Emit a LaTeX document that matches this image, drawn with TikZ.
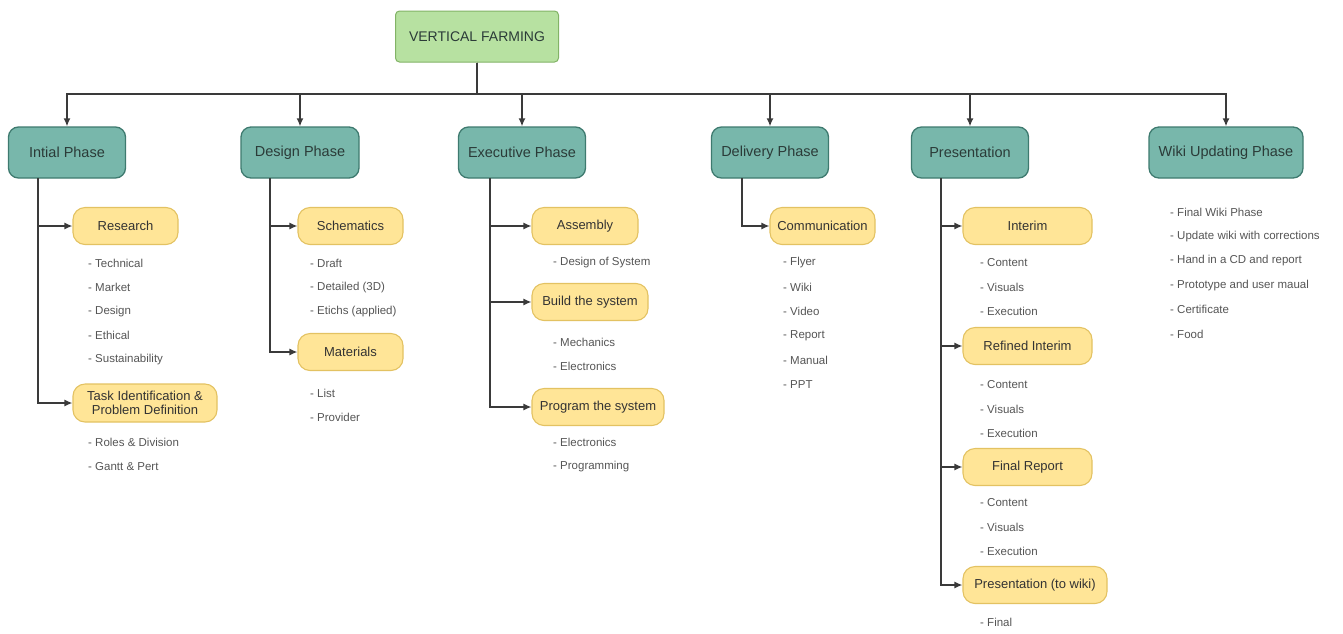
\documentclass[tikz,border=0pt]{standalone}
\usepackage{fontspec}
\setmainfont{Liberation Sans}
\usetikzlibrary{arrows.meta,calc}
\definecolor{rootfill}{HTML}{B7E1A1}
\definecolor{rootdraw}{HTML}{82B366}
\definecolor{phfill}{HTML}{78B7AB}
\definecolor{phdraw}{HTML}{3E7A6F}
\definecolor{yfill}{HTML}{FFE597}
\definecolor{ydraw}{HTML}{E3C262}
\definecolor{linec}{HTML}{3A3A3A}
\definecolor{bulc}{HTML}{555555}
\definecolor{txtc}{HTML}{2B3B38}
\tikzset{
  rootbox/.style={draw=rootdraw,fill=rootfill,line width=1pt,rounded corners=4pt,
    minimum width=163pt,minimum height=51pt,inner sep=0pt,
    font=\fontsize{14}{16}\selectfont,text=txtc},
  phasebox/.style={draw=phdraw,fill=phfill,line width=1.3pt,rounded corners=10pt,
    minimum height=51pt,inner sep=0pt,font=\fontsize{14.5}{16}\selectfont,text=txtc},
  subbox/.style={draw=ydraw,fill=yfill,line width=1.1pt,rounded corners=12pt,
    minimum height=37pt,inner sep=0pt,align=center,
    font=\fontsize{13}{14}\selectfont,text=black!80},
  bul/.style={anchor=west,inner sep=0pt,font=\fontsize{11.5}{13}\selectfont,text=bulc},
  conn/.style={draw=linec,line width=1.4pt},
  arr/.style={conn,-{Latex[length=8pt,width=7pt]}}
}
\begin{document}
\begin{tikzpicture}[x=1pt,y=-1pt]
\useasboundingbox (0,0) rectangle (1343,633);
% root
\node[rootbox] (root) at (477,36.5) {VERTICAL FARMING};
% phases
\node[phasebox,minimum width=117pt] (p1) at (67,152.5) {Intial Phase};
\node[phasebox,minimum width=118pt] (p2) at (300,152.5) {Design Phase};
\node[phasebox,minimum width=127pt] (p3) at (522,152.5) {Executive Phase};
\node[phasebox,minimum width=117pt] (p4) at (770,152.5) {Delivery Phase};
\node[phasebox,minimum width=117pt] (p5) at (970,152.5) {Presentation};
\node[phasebox,minimum width=154pt] (p6) at (1226,152.5) {Wiki Updating Phase};
% bus
\coordinate (bus) at (477,94);
\foreach \p in {p1,p2,p3,p4,p5,p6}{
  \draw[arr] (root.south) -- (bus) -| (\p.north);
}
% sub boxes
\node[subbox,minimum width=105pt] (s11) at (125.5,226) {Research};
\node[subbox,minimum width=144pt,minimum height=38pt] (s12) at (145,403) {Task Identification \&\\Problem Definition};
\node[subbox,minimum width=105pt] (s21) at (350.5,226) {Schematics};
\node[subbox,minimum width=105pt] (s22) at (350.5,352) {Materials};
\node[subbox,minimum width=106pt] (s31) at (585,226) {Assembly};
\node[subbox,minimum width=116pt] (s32) at (590,302) {Build the system};
\node[subbox,minimum width=132pt] (s33) at (598,407) {Program the system};
\node[subbox,minimum width=105pt] (s41) at (822.5,226) {Communication};
\node[subbox,minimum width=129pt] (s51) at (1027.5,226) {Interim};
\node[subbox,minimum width=129pt] (s52) at (1027.5,346) {Refined Interim};
\node[subbox,minimum width=129pt] (s53) at (1027.5,467) {Final Report};
\node[subbox,minimum width=144pt] (s54) at (1035,585) {Presentation (to wiki)};
% trunks
\coordinate (t1) at (38,178);
\coordinate (t2) at (270,178);
\coordinate (t3) at (490,178);
\coordinate (t4) at (742,178);
\coordinate (t5) at (941,178);
\foreach \s in {s11,s12}{\draw[arr] (t1) |- (\s.west);}
\foreach \s in {s21,s22}{\draw[arr] (t2) |- (\s.west);}
\foreach \s in {s31,s32,s33}{\draw[arr] (t3) |- (\s.west);}
\draw[arr] (t4) |- (s41.west);
\foreach \s in {s51,s52,s53,s54}{\draw[arr] (t5) |- (\s.west);}
% bullet lists
\foreach \t [count=\i] in {Technical,Market,Design,Ethical,Sustainability}
  \node[bul,name=b11\i] at (88,{263+24.25*(\i-1)}) {- \t};
\foreach \t [count=\i] in {Roles \& Division,Gantt \& Pert}
  \node[bul,name=b12\i] at (88,{442+24.25*(\i-1)}) {- \t};
\foreach \t [count=\i] in {Draft,Detailed (3D),Etichs (applied)}
  \node[bul,name=b21\i] at (310,{263+24.25*(\i-1)}) {- \t};
\foreach \t [count=\i] in {List,Provider}
  \node[bul,name=b22\i] at (310,{393+24.25*(\i-1)}) {- \t};
\node[bul] (b311) at (553,263) {- Design of System};
\foreach \t [count=\i] in {Mechanics,Electronics}
  \node[bul,name=b32\i] at (553,{342.5+24.25*(\i-1)}) {- \t};
\foreach \t [count=\i] in {Electronics,Programming}
  \node[bul,name=b33\i] at (553,{442+24.25*(\i-1)}) {- \t};
\foreach \t [count=\i] in {Flyer,Wiki,Video,Report,Manual,PPT}
  \node[bul,name=b41\i] at (783,{263+24.25*(\i-1)}) {- \t};
\foreach \t [count=\i] in {Content,Visuals,Execution}
  \node[bul,name=b51\i] at (980,{263+24.25*(\i-1)}) {- \t};
\foreach \t [count=\i] in {Content,Visuals,Execution}
  \node[bul,name=b52\i] at (980,{385+24.25*(\i-1)}) {- \t};
\foreach \t [count=\i] in {Content,Visuals,Execution}
  \node[bul,name=b53\i] at (980,{503+24.25*(\i-1)}) {- \t};
\node[bul] (b541) at (980,622) {- Final};
\foreach \t [count=\i] in {Final Wiki Phase,Update wiki with corrections,Hand in a CD and report,Prototype and user maual,Certificate,Food}
  \node[bul,name=b61\i] at (1170,{212+24.4*(\i-1)}) {- \t};
\end{tikzpicture}
\end{document}
